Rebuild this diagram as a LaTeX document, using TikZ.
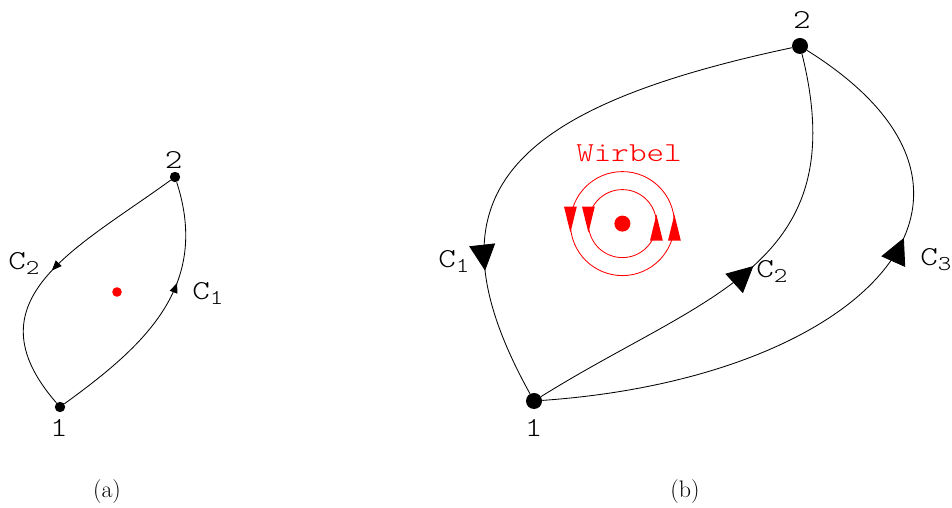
\documentclass[tikz,border=0pt]{standalone}
\usepackage{fontspec}
\usepackage{xcolor}
\usepackage{tikz}
\usetikzlibrary{arrows.meta, decorations.markings}
\newfontfamily\courfont{lmmonolt10-regular.otf}[FakeStretch=1.22]
\definecolor{wirbelrot}{RGB}{255,0,0}
\tikzset{
  kurve/.style={line width=0.6pt},
  pkt/.style={circle, fill=black, inner sep=0pt, minimum size=#1},
  rpkt/.style={circle, fill=wirbelrot, inner sep=0pt, minimum size=#1},
  lbl/.style={font=\courfont\fontsize{19.5}{22}\selectfont, inner sep=0pt},
  unterschrift/.style={font=\fontsize{17}{20}\selectfont, inner sep=0pt, anchor=base},
  spitze/.style n args={3}{postaction={decorate, decoration={markings,
      mark=at position #1 with {\arrow{Triangle[length=#2, width=#3]}}}}},
  % Wirbelpfeile: senkrecht, Spitze etwas ueber die Marke hinaus
  wpfeil/.style={postaction={decorate, decoration={markings,
      mark=at position #1 with {\fill (0.225,0) -- (-0.425,0.16) -- (-0.425,-0.16) -- cycle;}}}},
}
\newcommand{\Cidx}[1]{C\raisebox{-3.5pt}{\fontsize{15}{15}\selectfont #1}}

\begin{document}
\begin{tikzpicture}
\path[use as bounding box] (0,0) rectangle (23.8,12.7);

% Teil (a)
\node[pkt=2.6mm] (a1) at (1.5,2.525) {};
\node[pkt=2.6mm] (a2) at (4.375,8.275) {};
\node[rpkt=2.4mm] (az) at (2.925,5.4) {};

\draw[kurve, spitze={0.62}{2.5mm}{2mm}] (a1) to[out=36, in=-72, in looseness=1.14] (a2);
\draw[kurve, spitze={0.5}{2.5mm}{2mm}] (a2) to[out=216, in=131, out looseness=1.19, in looseness=1.39] (a1);

\node[lbl, anchor=base] (l1a) at (1.475,1.775) {1};
\node[lbl, anchor=base] (l2a) at (4.34,8.475) {2};
\node[lbl, anchor=base west] (c2a) at (0.2,5.95) {\Cidx{2}};
\node[lbl, anchor=base west] (c1a) at (4.8,5.2) {\Cidx{1}};
\node[unterschrift] (capa) at (2.675,0.25) {(a)};

% Teil (b)
\node[pkt=4mm] (b1) at (13.35,2.675) {};
\node[pkt=4mm] (b2) at (20.0,11.55) {};
\node[rpkt=4mm] (bz) at (15.56,7.11) {};

\draw[kurve, spitze={0.76}{6.5mm}{6.5mm}] (b2) to[out=192, in=119, out looseness=1.73, in looseness=1.32] (b1);
\draw[kurve, spitze={0.52}{6.5mm}{6.5mm}] (b1) to[out=32, in=-76, out looseness=1.15, in looseness=1.3] (b2);
\draw[kurve, spitze={0.64}{6.5mm}{6.5mm}] (b1) to[out=4, in=-32, out looseness=1.87, in looseness=1.6] (b2);

% Wirbel
\draw[wirbelrot, kurve, wpfeil=0.0001, wpfeil=0.5] (bz.center) circle[radius=1.3cm];
\draw[wirbelrot, kurve, wpfeil=0.0001, wpfeil=0.5] (bz.center) circle[radius=0.85cm];
\node[lbl, text=wirbelrot, anchor=base] (wl) at (15.725,8.65) {Wirbel};

\node[lbl, anchor=base] (l1b) at (13.34,1.775) {1};
\node[lbl, anchor=base] (l2b) at (20.05,11.975) {2};
\node[lbl, anchor=base west] (c1b) at (10.95,6.0) {\Cidx{1}};
\node[lbl, anchor=base west] (c2b) at (18.9,5.75) {\Cidx{2}};
\node[lbl, anchor=base west] (c3b) at (23.0,6.05) {\Cidx{3}};
\node[unterschrift] (capb) at (17.125,0.25) {(b)};

\end{tikzpicture}
\end{document}
